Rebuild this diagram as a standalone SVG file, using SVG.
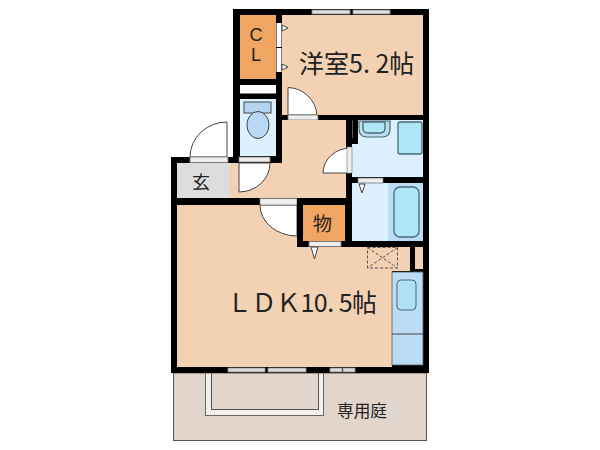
<svg xmlns="http://www.w3.org/2000/svg" width="600" height="450" viewBox="0 0 600 450">
<style>
text{font-family:"Noto Sans CJK JP","Liberation Sans",sans-serif;fill:#222}
text.latin{font-family:"Liberation Sans",sans-serif}
.peach{fill:#f3d2b4}
.orange{fill:#f0a562}
.pale{fill:#ddf0fd}
.mid{fill:#bcdcf5}
.cyan{fill:#aee6f8;stroke:#4a6a70;stroke-width:1.3}
.door{fill:#fff;stroke:#444;stroke-width:1}
.strip{fill:#eee;stroke:#777;stroke-width:.8}
.line{fill:none;stroke:#444;stroke-width:1}
.win{fill:#ddd;stroke:#888;stroke-width:.8}
</style>
<rect width="600" height="450" fill="#fff"/>
<g id="garden">
<rect x="173.500" y="373" width="253" height="67.500" fill="#e2d6cc" stroke="#555" stroke-width="1"/>
<rect x="205.500" y="373" width="118" height="42.500" fill="#f4f0ec" stroke="#666" stroke-width="1"/>
<rect x="211.500" y="373" width="107" height="36.500" fill="#e2d6cc" stroke="#555" stroke-width="1"/>
<text x="337" y="417" font-size="16.700">専用庭</text>
</g>
<g id="walls">
<path d="M233 9H429V373H171V157H233Z" fill="#000"/>
</g>
<g id="western-room">
<rect class="peach" x="282" y="15" width="141" height="100"/>
<path class="door" d="M288 115V87.500A30 30 0 0 1 317 115Z"/>
<rect class="strip" x="288" y="115" width="30" height="5"/>
<rect class="win" x="312" y="10" width="38" height="4"/>
<rect class="win" x="353" y="10" width="37" height="4"/>
<text x="299" y="73" font-size="25">洋室5. 2帖</text>
</g>
<g id="closet">
<rect class="orange" x="240" y="15" width="36" height="64"/>
<rect x="276.500" y="23" width="5" height="24" fill="#fff"/>
<rect x="276.500" y="48" width="5" height="24" fill="#fff"/>
<path class="door" d="M282 25L288 28L282 31Z"/>
<path class="door" d="M282 64L288 67L282 70Z"/>
<text class="latin" x="256" y="41" font-size="18" text-anchor="middle">C</text>
<text class="latin" x="256" y="61" font-size="18" text-anchor="middle">L</text>
</g>
<g id="shelf"><rect x="240" y="85" width="36" height="8.500" fill="#fff"/></g>
<g id="toilet">
<rect class="pale" x="240" y="99" width="36" height="57"/>
<rect x="244" y="102" width="27" height="11" fill="#b4d5f2" stroke="#444"/>
<ellipse cx="258" cy="125" rx="11" ry="13.500" fill="#b8d8f6" stroke="#444"/>
<rect class="strip" x="239" y="157" width="31" height="5"/>
</g>
<g id="hall">
<path class="peach" d="M282 120H346V198H230V163H282Z"/>
<path class="door" d="M239 163H270A31 29 0 0 1 239 192Z"/>
</g>
<g id="entrance">
<rect x="177" y="163" width="53" height="35" fill="#dcdcdc"/>
<path class="door" d="M190 157A37 35 0 0 1 227 122V157Z"/>
<rect class="strip" x="190" y="157" width="38" height="5.500"/>
<text x="192" y="189" font-size="18">玄</text>
</g>
<g id="washroom">
<path class="pale" d="M358 120H423V177H352V144H358Z"/>
<path d="M359 121H390V129Q390 137 382 137H367Q359 137 359 129Z" fill="#bcdcf5" stroke="#4a6a70" stroke-width="1.200"/>
<path class="cyan" d="M363 122H385V128Q385 133 380 133H368Q363 133 363 128Z"/>
<rect class="cyan" x="398" y="122" width="24" height="32" rx="2"/>
<path class="door" d="M351 148A28 25 0 0 0 323 173H351Z"/>
<rect x="347" y="147" width="5" height="26" fill="#eee" stroke="#777" stroke-width=".6"/>
<line x1="352.500" y1="120" x2="352.500" y2="138" stroke="#555" stroke-width="1"/>
</g>
<g id="bath">
<rect class="pale" x="352" y="183" width="36" height="58"/>
<rect class="mid" x="388" y="183" width="35" height="58"/>
<rect class="cyan" x="394" y="187" width="25" height="50" rx="6"/>
<rect class="strip" x="358" y="178" width="25" height="5"/>
<path class="door" d="M359 184H365L362 193Z"/>
</g>
<g id="ldk">
<path class="peach" d="M177 205H297V247H410V271H392V367H177Z"/>
<path class="door" d="M260 205H297V236A37 31 0 0 1 260 205Z"/>
<rect class="strip" x="260" y="198.500" width="37" height="6.500"/>
<path d="M297 198H303V247H297Z" fill="#000"/>
<rect x="367.500" y="247.500" width="30" height="20.500" fill="none" stroke="#555" stroke-dasharray="3 2"/>
<path d="M367.500 247.500L397.500 268M397.500 247.500L367.500 268" fill="none" stroke="#555" stroke-dasharray="3 2"/>
<text x="227" y="312" font-size="25" textLength="150">ＬＤＫ10. 5帖</text>
<rect class="win" x="228" y="368" width="37" height="4"/>
<rect class="win" x="268" y="368" width="38" height="4"/>
<rect class="win" x="330" y="368" width="12" height="4"/>
<rect class="win" x="343" y="368" width="12" height="4"/>
</g>
<g id="storage">
<rect class="orange" x="303" y="205" width="42" height="36"/>
<rect class="strip" x="309" y="241.500" width="32" height="5"/>
<path class="door" d="M311 247H318L314.500 259Z"/>
<text x="313" y="231" font-size="19">物</text>
</g>
<g id="kitchen">
<rect class="mid" x="392" y="272" width="31" height="93" stroke="#555" stroke-width=".8"/>
<rect x="397" y="280" width="19" height="30" rx="4" fill="#aee0f6" stroke="#4a6a70"/>
<line class="line" x1="392" y1="334" x2="423" y2="334"/>
<rect class="peach" x="415" y="247" width="8" height="22"/>
</g>
</svg>
